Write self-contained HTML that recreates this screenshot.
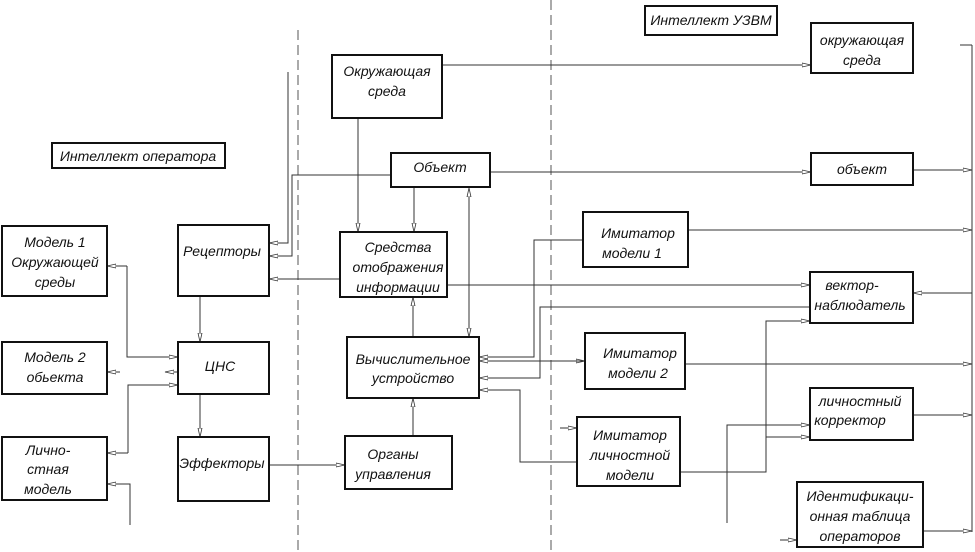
<!DOCTYPE html>
<html><head><meta charset="utf-8"><style>
html,body{margin:0;padding:0;background:#fff}
svg{display:block}
text{font-family:"Liberation Sans","DejaVu Sans",sans-serif;font-style:italic;font-size:14px;fill:#111;text-anchor:middle}
.b{fill:#fff;stroke:#111;stroke-width:2}
.l{stroke:#333;stroke-width:1;fill:none}
.d{stroke:#555;stroke-width:1;stroke-dasharray:10,5;fill:none}
</style></head><body>
<svg width="975" height="552" viewBox="0 0 975 552" xmlns="http://www.w3.org/2000/svg">
<defs>
<marker id="a" markerWidth="10" markerHeight="6" refX="9" refY="3" orient="auto" markerUnits="userSpaceOnUse"><path d="M0,1 L9,3 L0,5 Z" fill="#fff" stroke="#333" stroke-width="0.8"/></marker>
</defs>
<line class="d" x1="298" y1="30" x2="298" y2="552"/>
<line class="d" x1="551" y1="0" x2="551" y2="552"/>
<g class="l">
<line x1="442" y1="65" x2="811" y2="65" marker-end="url(#a)"/>
<line x1="358" y1="118" x2="358" y2="232" marker-end="url(#a)"/>
<line x1="414" y1="187" x2="414" y2="232" marker-end="url(#a)"/>
<line x1="490" y1="172" x2="811" y2="172" marker-end="url(#a)"/>
<polyline points="288,72 288,243 269,243" marker-end="url(#a)"/>
<polyline points="391,175 292,175 292,256 269,256" marker-end="url(#a)"/>
<line x1="340" y1="279" x2="269" y2="279" marker-end="url(#a)"/>
<line x1="469" y1="300" x2="469" y2="188" marker-end="url(#a)"/>
<line x1="469" y1="250" x2="469" y2="337" marker-end="url(#a)"/>
<line x1="447" y1="285" x2="810" y2="285" marker-end="url(#a)"/>
<line x1="413" y1="337" x2="413" y2="297" marker-end="url(#a)"/>
<line x1="413" y1="436" x2="413" y2="398" marker-end="url(#a)"/>
<line x1="269" y1="465" x2="345" y2="465" marker-end="url(#a)"/>
<line x1="200" y1="296" x2="200" y2="342" marker-end="url(#a)"/>
<line x1="200" y1="394" x2="200" y2="437" marker-end="url(#a)"/>
<polyline points="127,266 127,357 178,357" marker-end="url(#a)"/>
<line x1="127" y1="266" x2="107" y2="266" marker-end="url(#a)"/>
<line x1="178" y1="372" x2="165" y2="372" marker-end="url(#a)"/>
<line x1="120" y1="372" x2="107" y2="372" marker-end="url(#a)"/>
<polyline points="128,453 128,385 178,385" marker-end="url(#a)"/>
<line x1="128" y1="453" x2="107" y2="453" marker-end="url(#a)"/>
<polyline points="130,525 130,484 107,484" marker-end="url(#a)"/>
<polyline points="583,240 534,240 534,357 479,357" marker-end="url(#a)"/>
<line x1="479" y1="361" x2="585" y2="361" marker-end="url(#a)"/>
<line x1="585" y1="361" x2="479" y2="361" marker-end="url(#a)"/>
<polyline points="810,307 540,307 540,378 479,378" marker-end="url(#a)"/>
<polyline points="577,462 520,462 520,390 479,390" marker-end="url(#a)"/>
<line x1="560" y1="428" x2="577" y2="428" marker-end="url(#a)"/>
<polyline points="680,472 766,472 766,321 810,321" marker-end="url(#a)"/>
<line x1="766" y1="437" x2="810" y2="437" marker-end="url(#a)"/>
<polyline points="727,523 727,425 810,425" marker-end="url(#a)"/>
<line x1="688" y1="230" x2="972" y2="230" marker-end="url(#a)"/>
<line x1="685" y1="364" x2="972" y2="364" marker-end="url(#a)"/>
<line x1="972" y1="293" x2="913" y2="293" marker-end="url(#a)"/>
<line x1="913" y1="415" x2="972" y2="415" marker-end="url(#a)"/>
<line x1="923" y1="531" x2="972" y2="531" marker-end="url(#a)"/>
<line x1="780" y1="540" x2="797" y2="540" marker-end="url(#a)"/>
<line x1="913" y1="170" x2="972" y2="170" marker-end="url(#a)"/>
<line x1="960" y1="45" x2="972" y2="45"/>
<line x1="972" y1="45" x2="972" y2="532"/>
</g>
<rect class="b" x="52" y="143" width="173" height="25"/><text x="138" y="161">Интеллект оператора</text>
<rect class="b" x="645" y="6" width="132" height="29"/><text x="711" y="25">Интеллект УЗВМ</text>
<rect class="b" x="2" y="226" width="105" height="70"/><text x="55" y="247">Модель 1</text><text x="55" y="267">Окружающей</text><text x="55" y="287">среды</text>
<rect class="b" x="2" y="342" width="105" height="52"/><text x="55" y="362">Модель 2</text><text x="55" y="382">обьекта</text>
<rect class="b" x="2" y="437" width="105" height="63"/><text x="48" y="455">Лично-</text><text x="48" y="474">стная</text><text x="48" y="494">модель</text>
<rect class="b" x="178" y="225" width="91" height="71"/><text x="222" y="256">Рецепторы</text>
<rect class="b" x="178" y="342" width="91" height="52"/><text x="220" y="371">ЦНС</text>
<rect class="b" x="178" y="437" width="91" height="64"/><text x="222" y="468">Эффекторы</text>
<rect class="b" x="332" y="55" width="110" height="63"/><text x="387" y="76">Окружающая</text><text x="387" y="96">среда</text>
<rect class="b" x="391" y="153" width="99" height="34"/><text x="440" y="172">Объект</text>
<rect class="b" x="340" y="232" width="107" height="65"/><text x="398" y="252">Средства</text><text x="398" y="272">отображения</text><text x="398" y="292">информации</text>
<rect class="b" x="347" y="337" width="132" height="61"/><text x="413" y="364">Вычислительное</text><text x="413" y="383">устройство</text>
<rect class="b" x="345" y="436" width="107" height="53"/><text x="393" y="459">Органы</text><text x="393" y="479">управления</text>
<rect class="b" x="811" y="23" width="102" height="50"/><text x="862" y="45">окружающая</text><text x="862" y="65">среда</text>
<rect class="b" x="811" y="153" width="102" height="32"/><text x="862" y="174">объект</text>
<rect class="b" x="583" y="212" width="105" height="55"/><text x="638" y="238">Имитатор</text><text x="632" y="258">модели 1</text>
<rect class="b" x="810" y="272" width="103" height="51"/><text x="852" y="290">вектор-</text><text x="860" y="310">наблюдатель</text>
<rect class="b" x="585" y="333" width="100" height="56"/><text x="640" y="358">Имитатор</text><text x="638" y="378">модели 2</text>
<rect class="b" x="810" y="388" width="103" height="52"/><text x="860" y="406">личностный</text><text x="850" y="425">корректор</text>
<rect class="b" x="577" y="417" width="103" height="69"/><text x="630" y="440">Имитатор</text><text x="630" y="460">личностной</text><text x="630" y="480">модели</text>
<rect class="b" x="797" y="482" width="126" height="65"/><text x="860" y="501">Идентификаци-</text><text x="860" y="521">онная таблица</text><text x="860" y="541">операторов</text>
</svg>
</body></html>
